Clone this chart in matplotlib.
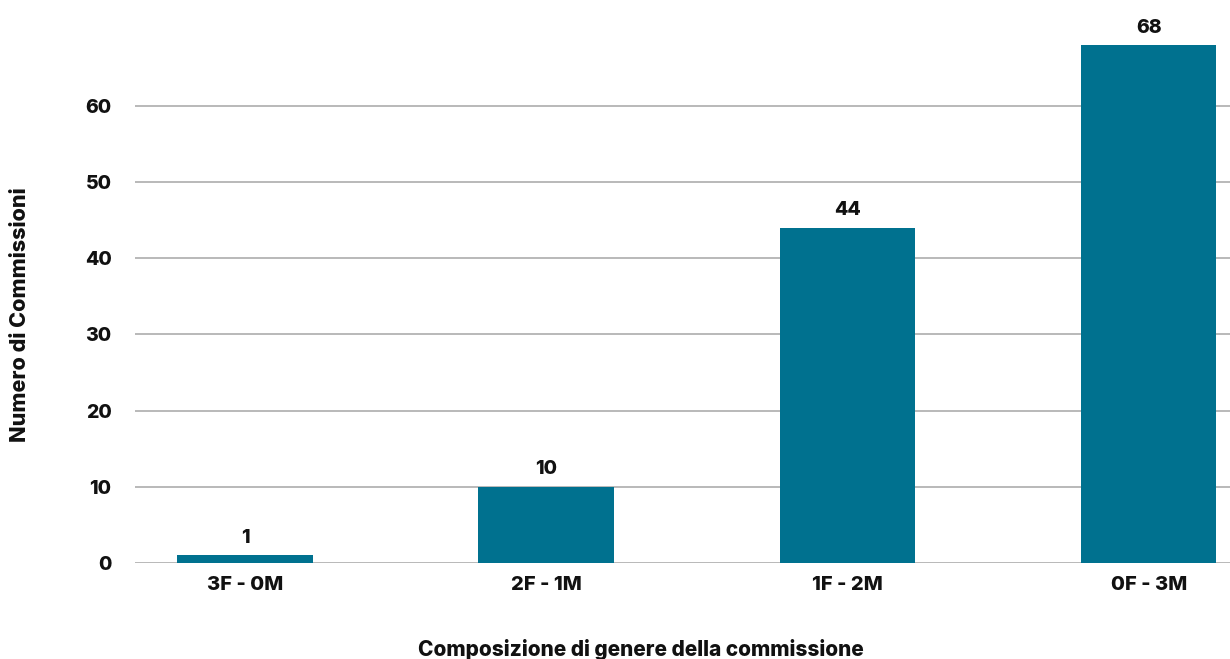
import matplotlib
matplotlib.use("Agg")
import matplotlib.pyplot as plt

categories = ["3F - 0M", "2F - 1M", "1F - 2M", "0F - 3M"]
counts = [1, 10, 44, 68]
y_ticks = [0, 10, 20, 30, 40, 50, 60]

bar_color = "#00718f"
grid_color = "#b3b3b3"
font = ["Inter", "DejaVu Sans"]
weight = "heavy"

fig = plt.figure(figsize=(12.3, 6.59), dpi=100)
ax = fig.add_axes([135 / 1230, 1 - 563 / 659, 1 - 135 / 1230, (563 - 45) / 659])

x = range(len(categories))
bars = ax.bar(x, counts, width=0.45, color=bar_color, zorder=3)

for rect, v in zip(bars, counts):
    ax.annotate(str(v), (rect.get_x() + rect.get_width() / 2, v),
                xytext=(0, 6), textcoords="offset points",
                ha="center", va="bottom", fontsize=14,
                fontweight=weight, family=font, color="#111111")

ax.set_xlim(-0.365, 3.27)
ax.set_ylim(0, 68)
ax.set_yticks(y_ticks)
ax.set_xticks(list(x))
ax.set_xticklabels(categories)

for lbl in ax.get_yticklabels():
    lbl.set_family(font)
    lbl.set_fontweight(weight)
    lbl.set_fontsize(14)
    lbl.set_color("#111111")
for lbl in ax.get_xticklabels():
    lbl.set_family(font)
    lbl.set_fontweight(weight)
    lbl.set_fontsize(14.5)
    lbl.set_color("#111111")

ax.tick_params(axis="both", length=0)
ax.tick_params(axis="y", pad=17)
ax.tick_params(axis="x", pad=9)
ax.grid(axis="y", color=grid_color, linewidth=1.3, zorder=0)
ax.set_axisbelow(True)
for s in ax.spines.values():
    s.set_visible(False)

fig.text(641 / 1230, 1 - 656 / 659, "Composizione di genere della commissione",
         ha="center", va="baseline", family=font, fontweight=weight,
         fontsize=15, color="#111111")
fig.text(20 / 1230, 1 - 315 / 659, "Numero di Commissioni", rotation=90,
         ha="center", va="center", family=font, fontweight=weight,
         fontsize=15.5, color="#111111")

fig.savefig("out.png", dpi=100, facecolor="white")
